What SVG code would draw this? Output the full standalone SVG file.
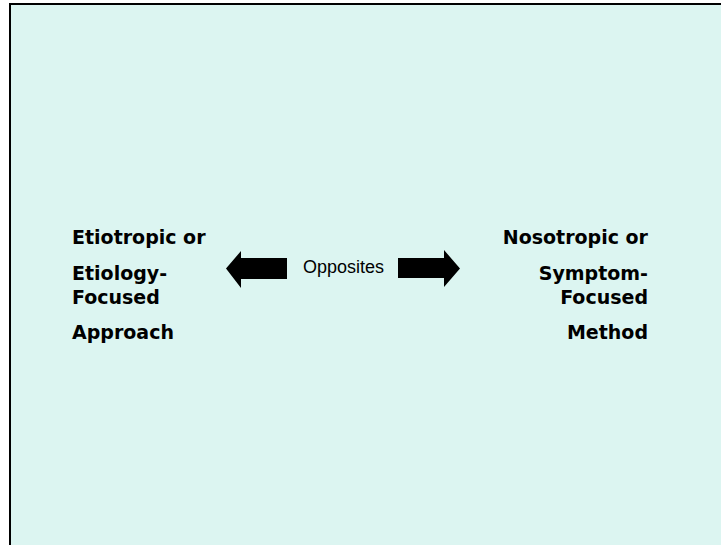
<svg xmlns="http://www.w3.org/2000/svg" width="721" height="545" viewBox="0 0 721 545">
  <style>
    .term { font-family: "DejaVu Sans", Verdana, sans-serif; font-weight: bold; font-size: 19px; fill: #000; }
    .right { text-anchor: end; }
    .label { font-family: "Liberation Sans", Arial, sans-serif; font-size: 18px; fill: #000; }
    .arrow { fill: #000; }
  </style>
  <rect x="0" y="0" width="721" height="545" fill="#ffffff"/>
  <!-- slide panel -->
  <rect x="10" y="4" width="720" height="560" fill="#dcf5f1" stroke="#000" stroke-width="2"/>

  <g id="etiotropic">
    <text class="term" x="72" y="243.5">Etiotropic or</text>
    <text class="term" x="72" y="279.5">Etiology-</text>
    <text class="term" x="72" y="303.5">Focused</text>
    <text class="term" x="72" y="339">Approach</text>
  </g>

  <g id="nosotropic">
    <text class="term right" x="648" y="243.5">Nosotropic or</text>
    <text class="term right" x="648" y="279.5">Symptom-</text>
    <text class="term right" x="648" y="303.5">Focused</text>
    <text class="term right" x="648" y="339">Method</text>
  </g>

  <g id="connectors">
    <polygon class="arrow" points="226,268.5 241,251 241,258 287,258 287,279 241,279 241,288"/>
    <polygon class="arrow" points="460,268.5 444,250 444,258 398,258 398,278 444,278 444,287"/>
    <text class="label" x="303" y="273.3">Opposites</text>
  </g>
</svg>
